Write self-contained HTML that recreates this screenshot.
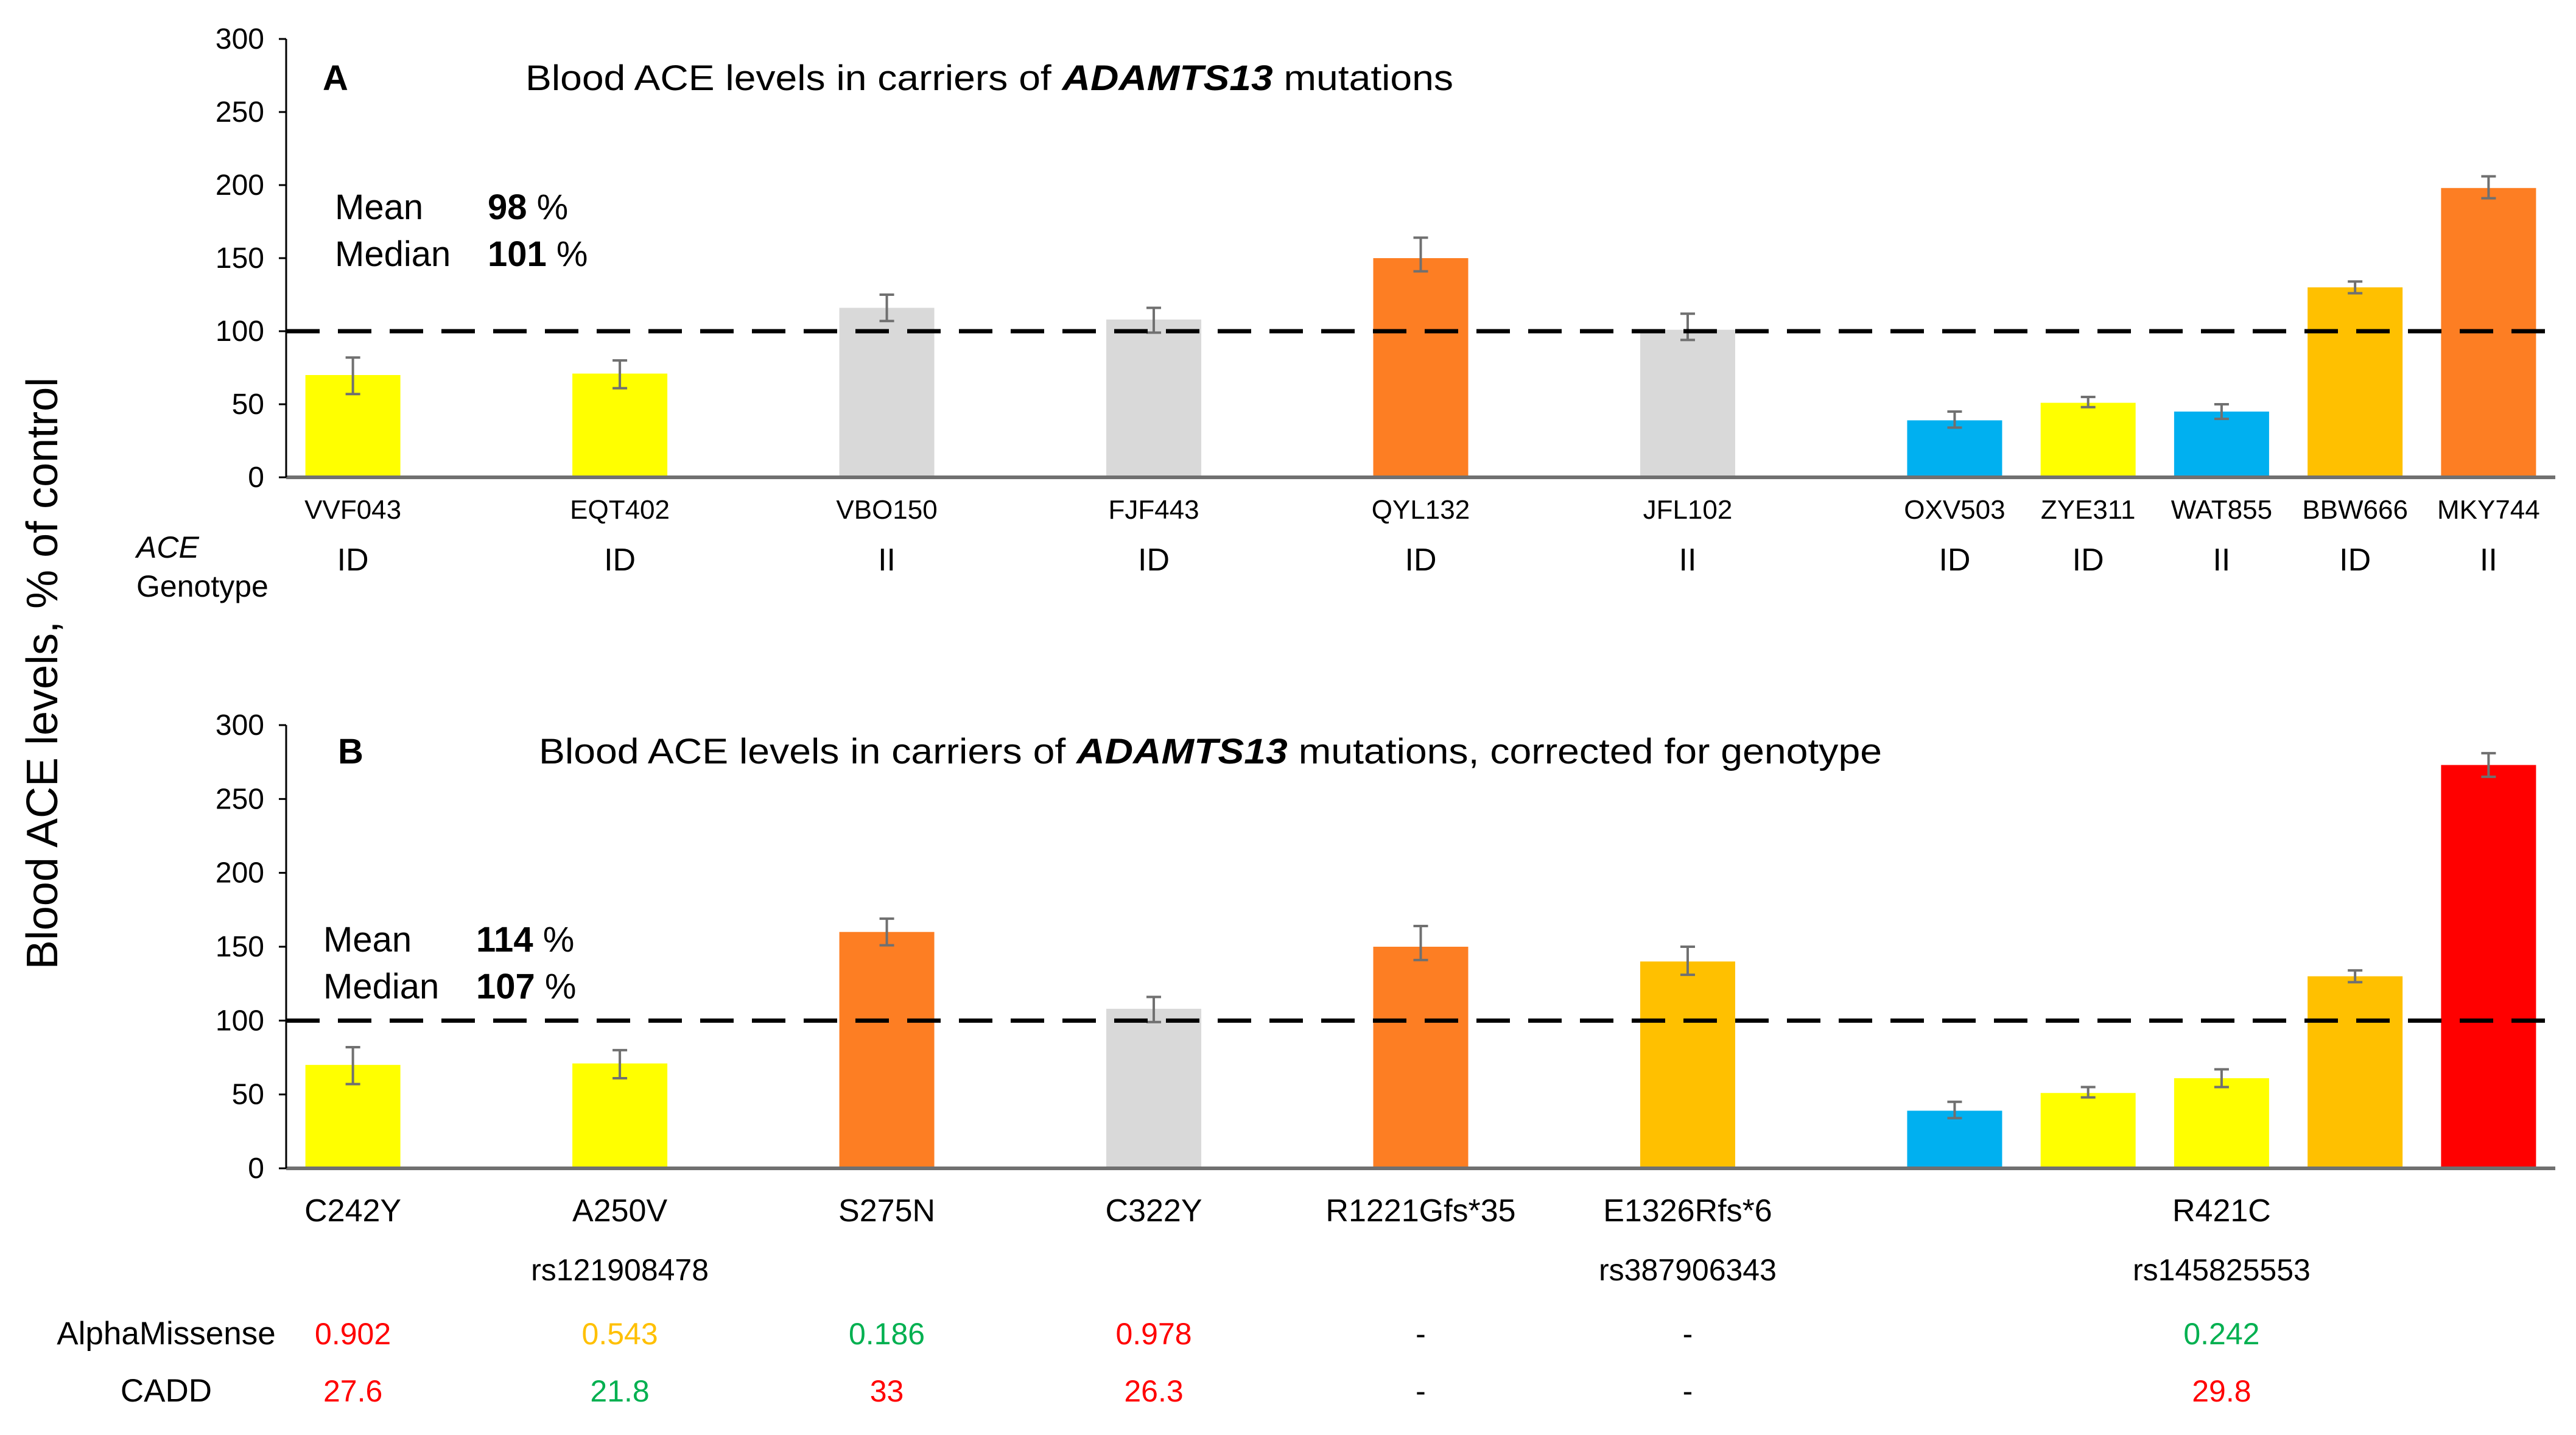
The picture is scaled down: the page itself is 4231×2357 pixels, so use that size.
<!DOCTYPE html>
<html><head><meta charset="utf-8"><style>
html,body{margin:0;padding:0;background:#fff;}
svg{display:block;font-family:"Liberation Sans",Arial,sans-serif;}
</style></head><body>
<svg id="chart" width="4231" height="2357" viewBox="0 0 4231 2357" xmlns="http://www.w3.org/2000/svg">
<text x="0" y="0" transform="translate(94,1106) rotate(-90)" text-anchor="middle" font-size="72" fill="#000">Blood ACE levels, % of control</text>

<text x="530" y="148" font-size="58" font-weight="bold">A</text>
<text x="863" y="148" font-size="58" textLength="1524" lengthAdjust="spacingAndGlyphs">Blood ACE levels in carriers of <tspan font-weight="bold" font-style="italic">ADAMTS13</tspan> mutations</text>
<text x="550" y="360" font-size="58">Mean</text>
<text x="801" y="360" font-size="58"><tspan font-weight="bold">98</tspan> %</text>
<text x="550" y="437" font-size="58">Median</text>
<text x="801" y="437" font-size="58"><tspan font-weight="bold">101</tspan> %</text>
<text x="224" y="916" font-size="50" font-style="italic">ACE</text>
<text x="224" y="980" font-size="50">Genotype</text>

<text x="555" y="1254" font-size="58" font-weight="bold">B</text>
<text x="885" y="1254" font-size="58" textLength="2206" lengthAdjust="spacingAndGlyphs">Blood ACE levels in carriers of <tspan font-weight="bold" font-style="italic">ADAMTS13</tspan> mutations, corrected for genotype</text>
<text x="531" y="1563" font-size="58">Mean</text>
<text x="782" y="1563" font-size="58"><tspan font-weight="bold">114</tspan> %</text>
<text x="531" y="1640" font-size="58">Median</text>
<text x="782" y="1640" font-size="58"><tspan font-weight="bold">107</tspan> %</text>
<text x="273" y="2208" font-size="53" text-anchor="middle">AlphaMissense</text>
<text x="273" y="2302" font-size="53" text-anchor="middle">CADD</text>
</svg>
<script>
// Panel A data
const catsA = ["VVF043","EQT402","VBO150","FJF443","QYL132","JFL102","OXV503","ZYE311","WAT855","BBW666","MKY744"];
const genoA = ["ID","ID","II","ID","ID","II","ID","ID","II","ID","II"];
const slotsA = [0,2,4,6,8,10,12,13,14,15,16];
const valsA = [70,71,116,108,150,101,39,51,45,130,198];
const loA = [57,61,107,99,141,94,34,48,40,126,191];
const hiA = [82,80,125,116,164,112,45,55,50,134,206];
const colA = ["#FFFF00","#FFFF00","#D9D9D9","#D9D9D9","#FD7E23","#D9D9D9","#00B0F0","#FFFF00","#00B0F0","#FFC000","#FD7E23"];
// Panel B data
const slotsB = [0,2,4,6,8,10,12,13,14,15,16];
const valsB = [70,71,160,108,150,140,39,51,61,130,273];
const loB = [57,61,151,99,141,131,34,48,55,126,265];
const hiB = [82,80,169,116,164,150,45,55,67,134,281];
const colB = ["#FFFF00","#FFFF00","#FD7E23","#D9D9D9","#FD7E23","#FFC000","#00B0F0","#FFFF00","#FFFF00","#FFC000","#FF0000"];
const labB = ["C242Y","A250V","S275N","C322Y","R1221Gfs*35","E1326Rfs*6","R421C"];
const labBSlot = [0,2,4,6,8,10,14];
const rsB = ["rs121908478","rs387906343","rs145825553"];
const rsSlot = [2,10,14];
const amVals = ["0.902","0.543","0.186","0.978","-","-","0.242"];
const amCols = ["#FF0000","#FFC000","#00B050","#FF0000","#000","#000","#00B050"];
const caddVals = ["27.6","21.8","33","26.3","-","-","29.8"];
const caddCols = ["#FF0000","#00B050","#FF0000","#FF0000","#000","#000","#FF0000"];
const ticks = [0,50,100,150,200,250,300];

const svg = document.getElementById('chart');
const NS = "http://www.w3.org/2000/svg";
function mk(tag, attrs, parent){const e=document.createElementNS(NS,tag);for(const k in attrs)e.setAttribute(k,attrs[k]);(parent||svg).appendChild(e);return e;}
const X0=470, X1=4197, NSLOT=17, SW=(X1-X0)/NSLOT, BW=156;
function xs(slot){return X0+SW*(slot+0.5);}

function panel(p, y0, y300, slots, vals, lo, hi, cols){
  const ys = v => y0 - (y0-y300)*v/300;
  const g = mk('g',{});
  
  
  vals.forEach((v,i)=>{
    const r = mk('rect',{x:xs(slots[i])-BW/2,y:ys(v),width:BW,height:y0-ys(v),fill:cols[i]},g);
    
    
  });
  vals.forEach((v,i)=>{
    const x=xs(slots[i]);
    const e = mk('path',{d:`M${x},${ys(lo[i])}V${ys(hi[i])}M${x-12},${ys(lo[i])}H${x+12}M${x-12},${ys(hi[i])}H${x+12}`,stroke:'#707070','stroke-width':4,fill:'none'},g);
    
    
  });
  const xa = mk('line',{x1:X0,x2:X1,y1:y0,y2:y0,stroke:'#707070','stroke-width':6},g);
  
  
  const ya = mk('line',{x1:X0,x2:X0,y1:y0,y2:y300,stroke:'#000','stroke-width':3},g);
  
  
  ticks.forEach(t=>{
    const tl = mk('line',{x1:X0-12,x2:X0,y1:ys(t),y2:ys(t),stroke:'#000','stroke-width':3},g);
    
    
    const tt = mk('text',{x:X0-36,y:ys(t)+16,'font-size':48,'text-anchor':'end'},g);
    tt.textContent=t;
    
    
  });
  const ref = mk('line',{x1:X0,x2:X1,y1:ys(100),y2:ys(100),stroke:'#000','stroke-width':7,'stroke-dasharray':'55 30'},g);
  
  
}
panel('a',784,64,slotsA,valsA,loA,hiA,colA);
panel('b',1919,1191,slotsB,valsB,loB,hiB,colB);

catsA.forEach((c,i)=>{
  const t=mk('text',{x:xs(slotsA[i]),y:852,'font-size':44,'text-anchor':'middle'});
  t.textContent=c;
  
  
  const g=mk('text',{x:xs(slotsA[i]),y:937,'font-size':52,'text-anchor':'middle'});
  g.textContent=genoA[i];
  
  
});
labB.forEach((c,i)=>{
  const x=xs(labBSlot[i]);
  const t=mk('text',{x:x,y:2006,'font-size':52,'text-anchor':'middle'});
  t.textContent=c;
  
  
  const a=mk('text',{x:x,y:2208,'font-size':50,'text-anchor':'middle',fill:amCols[i]});
  a.textContent=amVals[i];
  
  
  const d=mk('text',{x:x,y:2302,'font-size':50,'text-anchor':'middle',fill:caddCols[i]});
  d.textContent=caddVals[i];
  
  
});
rsB.forEach((r,i)=>{
  const t=mk('text',{x:xs(rsSlot[i]),y:2103,'font-size':50,'text-anchor':'middle'});
  t.textContent=r;
  
  
});
</script>
</body></html>
